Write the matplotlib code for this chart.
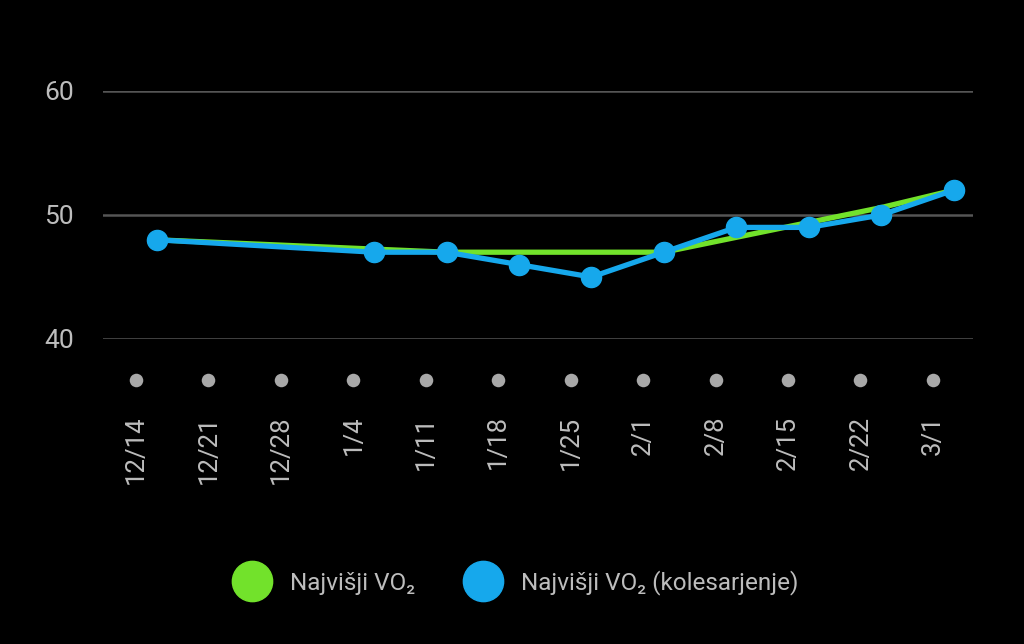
import matplotlib.pyplot as plt
from matplotlib.lines import Line2D

plt.rcParams['font.family'] = ['Roboto', 'DejaVu Sans']

# week ticks (days from 12/14)
tick_days = [0, 7, 14, 21, 28, 35, 42, 49, 56, 63, 70, 77]
tick_labels = ["12/14", "12/21", "12/28", "1/4", "1/11", "1/18", "1/25",
               "2/1", "2/8", "2/15", "2/22", "3/1"]

# measurement days (days from 12/14)
point_days = [2, 23, 30, 37, 44, 51, 58, 65, 72, 79]
vo2_max = [48, 47.25, 47, 47, 47, 47, 48.2, 49.4, 50.6, 52]
vo2_cycling = [48, 47, 47, 46, 45, 47, 49, 49, 50, 52]

GREEN = "#72E22B"
BLUE = "#16A8EC"
TEXT = "#BDBDBD"

fig = plt.figure(figsize=(10.24, 6.44), dpi=100, facecolor="black")
W, H = 1024, 644
ax = fig.add_axes([103 / W, 1 - 339 / H, (973 - 103) / W, (339 - 91) / H])
ax.set_facecolor("black")

ax.plot(point_days, vo2_max, color=GREEN, lw=3.8, solid_capstyle="round", zorder=2)
ax.plot(point_days, vo2_cycling, color=BLUE, lw=3.8, marker="o", markersize=14.5,
        solid_capstyle="round", zorder=3, clip_on=False)

ax.set_xlim(-3.19, 80.87)
ax.set_ylim(40, 60)
ax.set_yticks([40, 50, 60])
ax.grid(axis="y", color="#555555", lw=1.8)
ax.set_axisbelow(True)
for s in ax.spines.values():
    s.set_visible(False)

ax.tick_params(axis="y", length=0, pad=21, labelsize=19, labelcolor=TEXT)
ax.set_xticks(tick_days)
ax.set_xticklabels(tick_labels, rotation=90)
ax.tick_params(axis="x", length=0, pad=55, labelsize=18.5, labelcolor=TEXT)

# gray dots under each week
ax.scatter(tick_days, [36.69] * len(tick_days), s=95, color="#A8A8A8",
           clip_on=False, zorder=3, linewidths=0)

handles = [
    Line2D([], [], ls="none", marker="o", markersize=29, color=GREEN),
    Line2D([], [], ls="none", marker="o", markersize=29, color=BLUE),
]
leg = fig.legend(handles, ["Najvišji VO₂", "Najvišji VO₂ (kolesarjenje)"],
                 loc="center", bbox_to_anchor=(513 / W, 1 - 583 / H), ncol=2,
                 frameon=False, fontsize=17.5, handletextpad=0.55,
                 columnspacing=1.8, labelcolor=TEXT)

fig.savefig("out.png", dpi=100, facecolor="black")
